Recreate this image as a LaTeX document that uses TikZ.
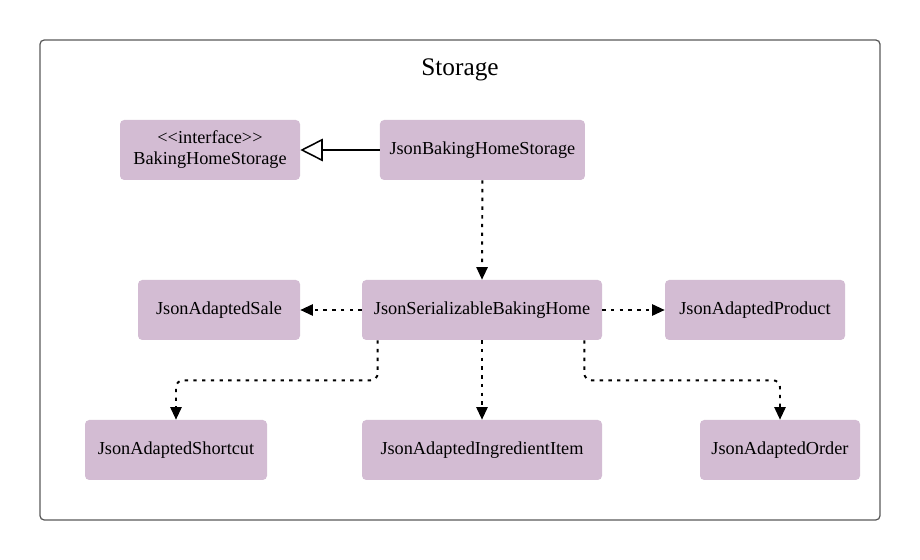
\documentclass[tikz,border=0pt]{standalone}
\usepackage{fontspec}
\setmainfont{Liberation Serif}
\usetikzlibrary{arrows.meta}

\definecolor{classfill}{HTML}{D3BCD3}
\tikzset{
  classbox/.style={fill=classfill, rounded corners=3pt, minimum height=1.5cm, font=\fontsize{13}{15}\selectfont, align=center, inner sep=0pt},
  depline/.style={line width=1.4pt, dash pattern=on 2.4pt off 3.8pt, -{Triangle[length=9pt,width=8pt]}},
  realizeline/.style={line width=1.1pt, -{Triangle[open,length=16pt,width=16pt]}}
}

\begin{document}
\begin{tikzpicture}
  \useasboundingbox (0,0) rectangle (23,14);
  \draw[line width=0.9pt, draw=black!65, rounded corners=3pt] (1,1) rectangle (22,13); % package frame
  \node (title) at (11.5,12.25) {\fontsize{18}{20}\selectfont Storage};

  % top row
  \node[classbox, minimum width=4.5cm] (iface) at (5.25,10.25) {{<}{<}interface{>}{>}\\BakingHomeStorage};
  \node[classbox, minimum width=5.125cm] (jbhs) at (12.06,10.25) {JsonBakingHomeStorage};

  % middle row
  \node[classbox, minimum width=6cm] (jsbh) at (12.05,6.25) {JsonSerializableBakingHome};
  \node[classbox, minimum width=4.05cm] (sale) at (5.475,6.25) {JsonAdaptedSale};
  \node[classbox, minimum width=4.5cm] (product) at (18.875,6.25) {JsonAdaptedProduct};

  % bottom row
  \node[classbox, minimum width=4.55cm] (shortcut) at (4.4,2.75) {JsonAdaptedShortcut};
  \node[classbox, minimum width=6cm] (ingredient) at (12.05,2.75) {JsonAdaptedIngredientItem};
  \node[classbox, minimum width=4cm] (order) at (19.5,2.75) {JsonAdaptedOrder};

  % connectors
  \draw[realizeline] (jbhs.west) -- (iface.east);
  \draw[depline] (jbhs.south) -- (jsbh.north);
  \draw[depline] (jsbh.west) -- (sale.east);
  \draw[depline] (jsbh.east) -- (product.west);
  \draw[depline] (jsbh.south) -- (ingredient.north);
  \draw[depline, rounded corners=5pt] ([xshift=0.4cm]jsbh.south west) -- ++(0,-1) -| (shortcut.north);
  \draw[depline, rounded corners=5pt] ([xshift=-0.45cm]jsbh.south east) -- ++(0,-1) -| (order.north);
\end{tikzpicture}
\end{document}
